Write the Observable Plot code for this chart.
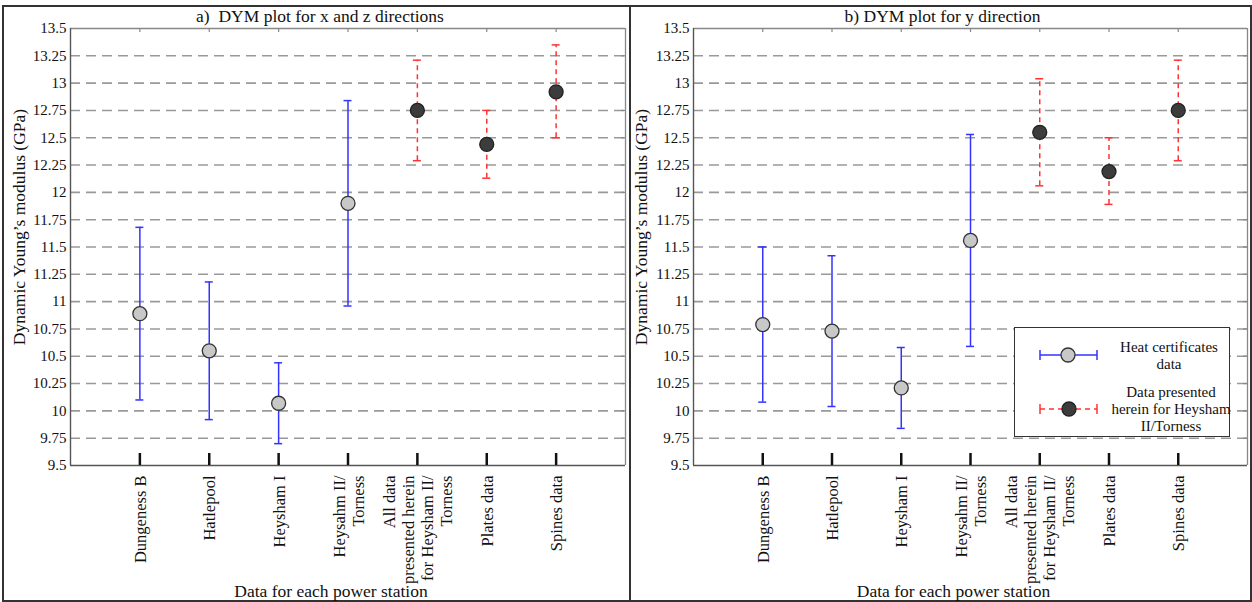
<!DOCTYPE html>
<html>
<head>
<meta charset="utf-8">
<script src="https://cdn.jsdelivr.net/npm/d3@7"></script>
<script src="https://cdn.jsdelivr.net/npm/@observablehq/plot@0.6"></script>
<style>
  html, body { margin: 0; padding: 0; background: #fff; }
  body { width: 1252px; height: 602px; position: relative; overflow: hidden; font-family: "Liberation Serif", serif; }
  #outer { position: absolute; left: 2px; top: 5px; width: 1246px; height: 593px; border: 2px solid #333; box-sizing: content-box; }
  #divider { position: absolute; left: 629px; top: 5px; width: 2px; height: 597px; background: #333; }
  #p1 { position: absolute; left: 0; top: 0; }
  #p2 { position: absolute; left: 630px; top: 0; }
  #legend { position: absolute; left: 1014px; top: 327px; width: 214px; height: 108px; border: 1.5px solid #333; background: #fff; }
  #legend svg { position: absolute; left: 0; top: 0; }
  .lt { position: absolute; font-size: 15px; line-height: 17px; text-align: center; color: #111; white-space: nowrap; }
</style>
</head>
<body>
<div id="outer"></div>
<div id="p1"></div>
<div id="p2"></div>
<div id="divider"></div>
<div id="legend">
  <svg width="214" height="108">
    <line x1="25" y1="27" x2="82" y2="27" stroke="#3333ff" stroke-width="1.5"/>
    <line x1="25" y1="22" x2="25" y2="32" stroke="#3333ff" stroke-width="1.5"/>
    <line x1="82" y1="22" x2="82" y2="32" stroke="#3333ff" stroke-width="1.5"/>
    <circle cx="53" cy="27" r="7" fill="#c8c8c8" stroke="#333" stroke-width="1.3"/>
    <line x1="25" y1="81" x2="82" y2="81" stroke="#ff3333" stroke-width="1.5" stroke-dasharray="5,4"/>
    <line x1="25" y1="76" x2="25" y2="86" stroke="#ff3333" stroke-width="1.5"/>
    <line x1="82" y1="76" x2="82" y2="86" stroke="#ff3333" stroke-width="1.5"/>
    <circle cx="54" cy="81" r="7" fill="#3c3c3c" stroke="#222" stroke-width="1.3"/>
  </svg>
  <div class="lt" style="left:104px; top:11px; width:100px;">Heat certificates<br>data</div>
  <div class="lt" style="left:96px; top:56px; width:120px;">Data presented<br>herein for Heysham<br>II/Torness</div>
</div>
<script>
// ---- data ----
const categories = ["Dungeness B", "Hatlepool", "Heysham I", "Heysahm II/\nTorness",
  "All data\npresented herein\nfor Heysham II/\nTorness", "Plates data", "Spines data"];
const positions = [1, 2, 3, 4, 5, 6, 7];
const groups = ["heat", "heat", "heat", "heat", "herein", "herein", "herein"];

// panel a) x and z directions
const meanA = [10.89, 10.55, 10.07, 11.90, 12.75, 12.44, 12.92];
const lowA  = [10.10,  9.92,  9.70, 10.96, 12.29, 12.13, 12.50];
const highA = [11.68, 11.18, 10.44, 12.84, 13.21, 12.75, 13.35];

// panel b) y direction
const meanB = [10.79, 10.73, 10.21, 11.56, 12.55, 12.19, 12.75];
const lowB  = [10.08, 10.04,  9.84, 10.59, 12.06, 11.89, 12.29];
const highB = [11.50, 11.42, 10.58, 12.53, 13.04, 12.50, 13.21];

const yTicks = [9.5, 9.75, 10, 10.25, 10.5, 10.75, 11, 11.25, 11.5, 11.75, 12, 12.25, 12.5, 12.75, 13, 13.25, 13.5];
const gridTicks = yTicks.slice(1, -1);

const titleA = "a)  DYM plot for x and z directions";
const titleB = "b) DYM plot for y direction";
const yLabel = "Dynamic Young\u2019s modulus (GPa)";
const xLabel = "Data for each power station";

function rows(mean, low, high) {
  return positions.map((p, i) => ({x: p, m: mean[i], lo: low[i], hi: high[i], g: groups[i]}));
}

function panel(data, title, width, marginLeft, yLabelDx) {
  const heat = data.filter(d => d.g === "heat");
  const here = data.filter(d => d.g === "herein");
  const blue = "#3333ff", red = "#ff3333";
  return Plot.plot({
    width, height: 602,
    marginLeft, marginRight: 5, marginTop: 28, marginBottom: 137,
    style: {fontFamily: "Liberation Serif, serif", fontSize: "15px", background: "transparent", overflow: "visible", color: "#111"},
    x: {domain: [0, 8]},
    y: {domain: [9.5, 13.5]},
    marks: [
      // grid
      Plot.ruleY(gridTicks, {y: d => d, stroke: "#999", strokeWidth: 1.6, strokeDasharray: "10,6"}),
      // frame
      Plot.ruleY([13.5], {y: d => d, stroke: "#888", strokeWidth: 1.3}),
      Plot.ruleX([8], {x: d => d, stroke: "#888", strokeWidth: 1.3}),
      Plot.ruleX([0], {x: d => d, stroke: "#555", strokeWidth: 1.4}),
      Plot.ruleY([9.5], {y: d => d, stroke: "#555", strokeWidth: 1.4}),
      // top small ticks
      Plot.ruleX(positions, {x: d => d, y1: 13.5, y2: 13.5, insetBottom: -4, stroke: "#888", strokeWidth: 1.2}),
      // right small ticks
      Plot.ruleY(gridTicks, {y: d => d, x1: 8, x2: 8, insetLeft: -4, stroke: "#888", strokeWidth: 1.2}),
      // bottom inward thick ticks
      Plot.ruleX(positions, {x: d => d, y1: 9.5, y2: 9.5, insetTop: -12, stroke: "#111", strokeWidth: 2.5}),
      // axes
      Plot.axisY({ticks: yTicks, tickSize: 0, tickPadding: 4, tickFormat: d => String(d), fontSize: 15, label: null}),
      Plot.axisX({ticks: positions, tickSize: 0, tickRotate: -90, tickPadding: 10,
        tickFormat: d => categories[d - 1], fontSize: 16.5, label: null, lineHeight: 1.15}),
      // error bars: heat certificates
      Plot.ruleX(heat, {x: "x", y1: "lo", y2: "hi", stroke: blue, strokeWidth: 1.5}),
      Plot.ruleY(heat, {y: "hi", x1: "x", x2: "x", insetLeft: -4, insetRight: -4, stroke: blue, strokeWidth: 1.5}),
      Plot.ruleY(heat, {y: "lo", x1: "x", x2: "x", insetLeft: -4, insetRight: -4, stroke: blue, strokeWidth: 1.5}),
      // error bars: data presented herein
      Plot.ruleX(here, {x: "x", y1: "lo", y2: "hi", stroke: red, strokeWidth: 1.5, strokeDasharray: "5,4"}),
      Plot.ruleY(here, {y: "hi", x1: "x", x2: "x", insetLeft: -4, insetRight: -4, stroke: red, strokeWidth: 1.5}),
      Plot.ruleY(here, {y: "lo", x1: "x", x2: "x", insetLeft: -4, insetRight: -4, stroke: red, strokeWidth: 1.5}),
      // points
      Plot.dot(heat, {x: "x", y: "m", r: 7, fill: "#c8c8c8", stroke: "#333", strokeWidth: 1.3}),
      Plot.dot(here, {x: "x", y: "m", r: 7, fill: "#3c3c3c", stroke: "#222", strokeWidth: 1.3}),
      // texts
      Plot.text([title], {text: d => d, frameAnchor: "top", textAnchor: "middle", lineAnchor: "middle", dx: -28, dy: -12, fontSize: 17.5, fill: "#111"}),
      Plot.text([yLabel], {text: d => d, frameAnchor: "left", textAnchor: "middle", lineAnchor: "middle", dx: yLabelDx, dy: -20, rotate: -90, fontSize: 17.5, fill: "#111"}),
      Plot.text([xLabel], {text: d => d, frameAnchor: "bottom", textAnchor: "middle", lineAnchor: "middle", dx: -17, dy: 126, fontSize: 17.5, fill: "#111"})
    ]
  });
}

document.getElementById("p1").appendChild(panel(rows(meanA, lowA, highA), titleA, 630, 70, -51));
document.getElementById("p2").appendChild(panel(rows(meanB, lowB, highB), titleB, 622, 63, -52));
</script>
</body>
</html>
